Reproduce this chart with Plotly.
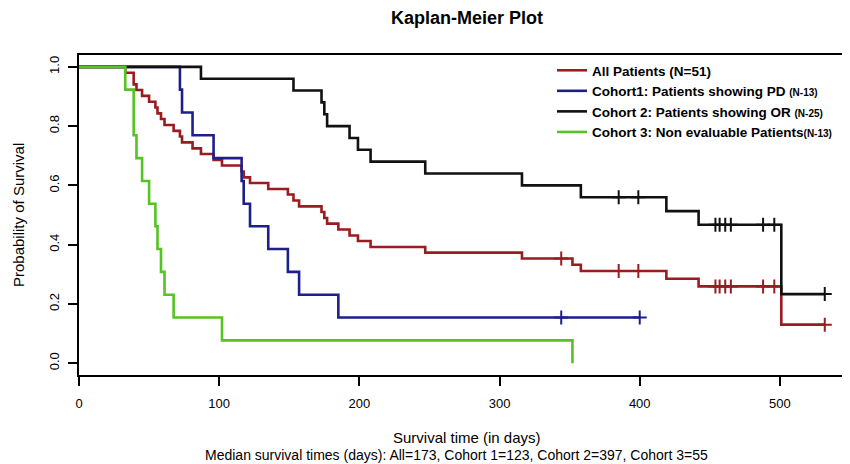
import plotly.graph_objects as go

# ---------------- data ----------------
# All patients (N=51)
all_t = [0, 33, 39, 41, 45, 50, 54.5, 56, 58.5, 61, 67.5, 72, 73.5, 81, 87, 96, 102,
         116, 117.5, 122, 135, 149, 153, 157, 173, 175, 177, 185, 193, 199, 208, 247,
         316, 352, 358, 419, 442, 501]
all_s = [1.0, 0.980, 0.941, 0.922, 0.902, 0.882, 0.863, 0.843, 0.824, 0.804, 0.784,
         0.765, 0.745, 0.725, 0.706, 0.686, 0.667, 0.647, 0.627, 0.608, 0.588, 0.569,
         0.549, 0.529, 0.510, 0.490, 0.471, 0.451, 0.431, 0.412, 0.392, 0.373, 0.353,
         0.332, 0.311, 0.285, 0.259, 0.130]
all_end = 532
all_cens_t = [344, 385, 399, 454, 457, 461, 465, 488, 496, 532]
all_cens_s = [0.353, 0.311, 0.311, 0.259, 0.259, 0.259, 0.259, 0.259, 0.259, 0.130]

# Cohort 1: patients showing PD (N=13)
c1_t = [0, 72, 73.5, 81, 96, 116, 117.5, 122, 135, 149, 157, 185]
c1_s = [1.0, 0.923, 0.846, 0.769, 0.692, 0.615, 0.538, 0.462, 0.385, 0.308, 0.231, 0.154]
c1_end = 400
c1_cens_t = [344, 400]
c1_cens_s = [0.154, 0.154]

# Cohort 2: patients showing OR (N=25)
c2_t = [0, 87, 153, 173, 175, 177, 193, 199, 208, 247, 316, 358, 419, 442, 501]
c2_s = [1.0, 0.96, 0.92, 0.88, 0.84, 0.80, 0.76, 0.72, 0.68, 0.64, 0.60, 0.56,
        0.513, 0.467, 0.233]
c2_end = 532
c2_cens_t = [385, 399, 454, 457, 461, 465, 488, 496, 532]
c2_cens_s = [0.56, 0.56, 0.467, 0.467, 0.467, 0.467, 0.467, 0.467, 0.233]

# Cohort 3: non evaluable patients (N=13)
c3_t = [0, 33, 39, 41, 45, 50, 54.5, 56, 58.5, 61, 67.5, 102, 352]
c3_s = [1.0, 0.923, 0.769, 0.692, 0.615, 0.538, 0.462, 0.385, 0.308, 0.231, 0.154,
        0.077, 0.0]

x_ticks = [0, 100, 200, 300, 400, 500]
y_ticks = [0.0, 0.2, 0.4, 0.6, 0.8, 1.0]

names = [
    "All Patients (N=51)",
    "Cohort1: Patients showing PD <span style='font-size:10px'>(N-13)</span>",
    "Cohort 2: Patients showing OR <span style='font-size:10px'>(N-25)</span>",
    "Cohort 3: Non evaluable Patients<span style='font-size:10px'>(N-13)</span>",
]
colors = ["#9a1b20", "#1f1f8c", "#111111", "#55c321"]

FONT = "Liberation Sans, Arial, sans-serif"

# the page body has an 8px margin, so the figure is sized to fit inside it
W, H = 842, 456
OFF = 8
L, T, B = 79 - OFF, 55 - OFF, 464 - 375
PW, PH = W - L, H - T - B

fig = go.Figure()

series = [
    (all_t + [all_end], all_s + [all_s[-1]], all_cens_t, all_cens_s),
    (c1_t + [c1_end], c1_s + [c1_s[-1]], c1_cens_t, c1_cens_s),
    (c2_t + [c2_end], c2_s + [c2_s[-1]], c2_cens_t, c2_cens_s),
    (c3_t, c3_s, [], []),
]

for (tx, sy, ct, cs), nm, col in zip(series, names, colors):
    fig.add_trace(go.Scatter(
        x=tx, y=sy, mode="lines", name=nm,
        line=dict(color=col, width=2.6, shape="hv"),
        hoverinfo="skip",
    ))
    if ct:
        fig.add_trace(go.Scatter(
            x=ct, y=cs, mode="markers", showlegend=False,
            marker=dict(symbol="cross-thin", size=10,
                        line=dict(color=col, width=2)),
            hoverinfo="skip",
        ))

fig.update_layout(
    width=W, height=H,
    margin=dict(l=L, r=0, t=T, b=B, autoexpand=False),
    paper_bgcolor="white", plot_bgcolor="white",
    font=dict(family=FONT, size=13, color="black"),
    title=dict(text="<b>Kaplan-Meier Plot</b>", x=(467 - 79) / PW, xref="paper",
               xanchor="center",
               y=1 - (18 - OFF) / H, yref="container", yanchor="middle",
               font=dict(size=18, family=FONT, color="black")),
    legend=dict(x=(552 - 79) / PW, y=1 - (55 - 55) / PH, xanchor="left", yanchor="top",
                bgcolor="rgba(0,0,0,0)", borderwidth=0,
                font=dict(size=13.5, family="Liberation Sans, Arial, sans-serif",
                          color="black", weight="bold"),
                tracegroupgap=0),
    showlegend=True,
)

fig.update_xaxes(
    range=[0, 550], tickvals=x_ticks, ticktext=[str(v) for v in x_ticks],
    showgrid=False, zeroline=False,
    showline=True, linecolor="black", linewidth=2, mirror=True,
    ticks="outside", ticklen=9, tickwidth=1.5, tickcolor="black",
    tickfont=dict(size=13), ticklabelstandoff=6,
)
fig.update_yaxes(
    range=[-0.04, 1.04], tickvals=y_ticks, ticktext=[f"{v:.1f}" for v in y_ticks],
    showgrid=False, zeroline=False,
    showline=True, linecolor="black", linewidth=2, mirror=False,
    ticks="outside", ticklen=9, tickwidth=1.5, tickcolor="black",
    tickangle=-90, tickfont=dict(size=13), ticklabelstandoff=4,
)

fig.add_annotation(text="Probability of Survival", textangle=-90,
                   xref="paper", yref="paper", x=(18 - 79) / PW, y=0.5,
                   xanchor="center", yanchor="middle", showarrow=False,
                   font=dict(size=15))
fig.add_annotation(text="Survival time (in days)",
                   xref="paper", yref="paper", x=(467 - 79) / PW,
                   y=-(437 - 375) / PH, xanchor="center", yanchor="middle",
                   showarrow=False, font=dict(size=15))
fig.add_annotation(text="Median survival times (days): All=173, Cohort 1=123, Cohort 2=397, Cohort 3=55",
                   xref="paper", yref="paper", x=(456 - 79) / PW,
                   y=-(455 - 375) / PH, xanchor="center", yanchor="middle",
                   showarrow=False, font=dict(size=14))

fig.write_html("out.html")
